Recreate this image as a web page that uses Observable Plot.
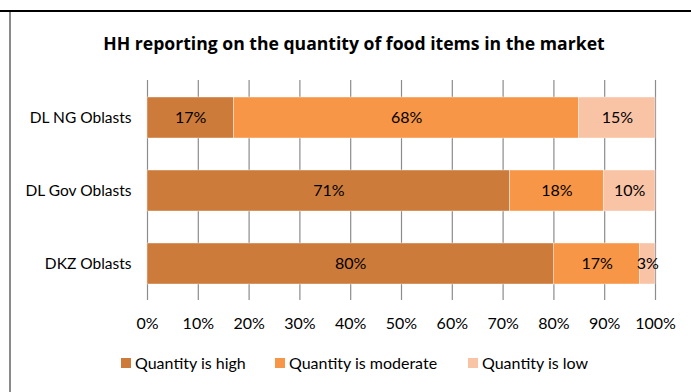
<!DOCTYPE html>
<html>
<head>
<meta charset="utf-8">
<script src="https://cdn.jsdelivr.net/npm/d3@7"></script>
<script src="https://cdn.jsdelivr.net/npm/@observablehq/plot@0.6"></script>
<style>
  body { margin: 0; background: #fff; font-family: Lato, "Open Sans", sans-serif; }
  #wrap { position: relative; width: 691px; height: 392px; overflow: hidden; background: #fff; }
  #topline { position: absolute; left: 0; top: 10px; width: 691px; height: 2px; background: #000; }
  #leftline { position: absolute; left: 9px; top: 12px; width: 2px; height: 380px; background: #8a8a8a; }
  #title { position: absolute; left: 0; top: 31px; width: 708px; text-align: center; font-weight: bold; font-size: 17.6px; color: #000; font-family: "Open Sans", sans-serif; }
  #chart { position: absolute; left: 0; top: 0; }
  .leg { position: absolute; top: 353px; font-size: 16px; color: #000; line-height: 20px; white-space: nowrap; }
  .sw { position: absolute; top: 5px; left: 0; width: 10px; height: 10px; }
  .lt { position: absolute; left: 14px; top: 0; }
</style>
</head>
<body>
<div id="wrap">
  <div id="topline"></div>
  <div id="leftline"></div>
  <div id="chart"></div>
  <div id="title"></div>
  <div id="legend"></div>
</div>
<script>
const title = "HH reporting on the quantity of food items in the market";
const categories = ["DL NG Oblasts", "DL Gov Oblasts", "DKZ Oblasts"];
const series = ["Quantity is high", "Quantity is moderate", "Quantity is low"];
const colors = ["#CD7B3A", "#F79646", "#F9C3A6"];
const highValues = [17, 71.4, 80];
const moderateValues = [68, 18.4, 17];
const lowValues = [15, 10.2, 3];
const xTicks = [0, 10, 20, 30, 40, 50, 60, 70, 80, 90, 100];
const legendX = [121, 275, 468];

const seriesValues = [highValues, moderateValues, lowValues];
const data = [];
series.forEach((s, si) => {
  categories.forEach((c, ci) => {
    data.push({ cat: c, series: s, value: seriesValues[si][ci] });
  });
});

document.getElementById("title").textContent = title;

const stackOpts = { y: "cat", x: "value", z: "series", order: series };
const plot = Plot.plot({
  width: 691,
  height: 340,
  marginLeft: 147,
  marginRight: 36,
  marginTop: 80,
  marginBottom: 40,
  style: { fontFamily: "Lato, 'Open Sans', sans-serif", fontSize: "15px", color: "#000", background: "transparent" },
  x: { domain: [0, 100], ticks: xTicks, tickFormat: d => d + "%", tickSize: 0, tickPadding: 17, label: null },
  y: { domain: categories, paddingInner: 0.44, paddingOuter: 0.22, tickSize: 0, tickPadding: 16, label: null },
  color: { domain: series, range: colors },
  marks: [
    Plot.ruleX(xTicks, { stroke: "#8c8c8c", strokeWidth: 1.2 }),
    Plot.barX(data, Plot.stackX({ ...stackOpts, fill: "series", stroke: "#fff", strokeWidth: 0.4, inset: 0 })),
    Plot.text(data, Plot.stackX({ ...stackOpts, text: d => Math.round(d.value) + "%", fill: "#000", fontSize: 16 })),
    Plot.axisX({ ticks: xTicks, tickFormat: d => d + "%", tickSize: 0, tickPadding: 17, fontSize: 16 }),
    Plot.axisY({ tickSize: 0, tickPadding: 16, fontSize: 15.5 })
  ]
});
document.getElementById("chart").appendChild(plot);

const legend = document.getElementById("legend");
series.forEach((s, i) => {
  const item = document.createElement("div");
  item.className = "leg";
  item.style.left = legendX[i] + "px";
  const sw = document.createElement("div");
  sw.className = "sw";
  sw.style.background = colors[i];
  const lt = document.createElement("div");
  lt.className = "lt";
  lt.textContent = s;
  item.appendChild(sw);
  item.appendChild(lt);
  legend.appendChild(item);
});
</script>
</body>
</html>
